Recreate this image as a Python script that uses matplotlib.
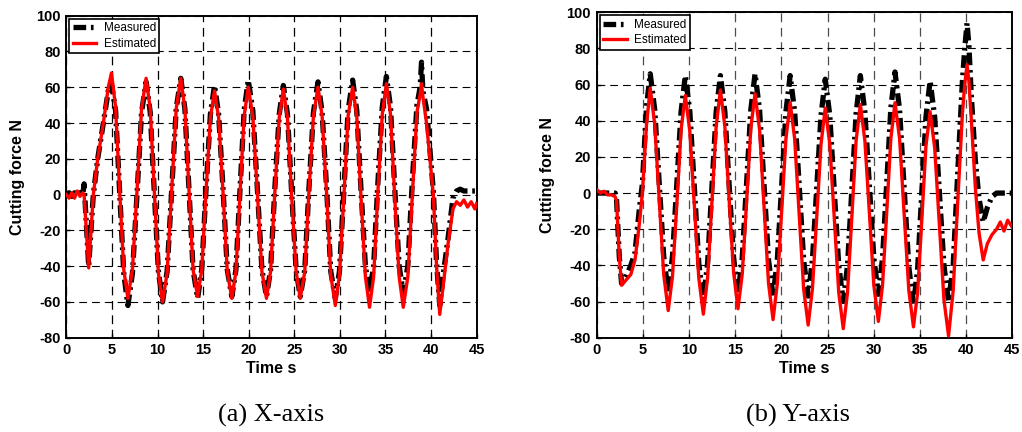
import matplotlib
matplotlib.use('Agg')
import matplotlib.pyplot as plt

# ---- data (time in s, force in N) ----
# (a) X-axis
x_time = [0, 0.3, 0.6, 0.9, 1.2, 1.5, 1.8, 1.95, 2.45,
          2.96, 3.44, 4.06, 4.6, 4.95,
          5.4, 5.85, 6.3, 6.75,
          7.25, 7.75, 8.25, 8.75,
          9.2, 9.65, 10.1, 10.55,
          11.05, 11.55, 12.05, 12.55,
          13.0, 13.45, 13.9, 14.4,
          14.85, 15.3, 15.8, 16.25,
          16.7, 17.2, 17.65, 18.15,
          18.6, 19.05, 19.5, 19.95,
          20.45, 20.95, 21.45, 21.95,
          22.4, 22.85, 23.35, 23.8,
          24.25, 24.7, 25.2, 25.65,
          26.15, 26.6, 27.1, 27.6,
          28.05, 28.55, 29.0, 29.5,
          29.95, 30.45, 30.9, 31.4,
          31.85, 32.3, 32.8, 33.25,
          33.7, 34.15, 34.65, 35.1,
          35.55, 36.0, 36.5, 36.95,
          37.45, 37.95, 38.45, 38.8, 38.95, 39.1,
          39.5, 40.25, 40.6, 40.95,
          41.35, 41.85, 42.4, 42.8, 43.2, 43.6, 44.0, 44.4, 44.8, 45.0]

x_measured = [0, 1, -1, 1, 0, 1, 0, 6, -40,
              0, 20, 40, 58, 62,
              47, 1, -44, -62,
              -44, 0, 46, 63,
              46, 1, -43, -60,
              -43, 2, 48, 65,
              48, 3, -42, -58,
              -42, 1, 45, 61,
              45, 2, -42, -57,
              -42, 3, 47, 64,
              47, 3, -42, -57,
              -42, 2, 45, 61,
              45, 2, -42, -57,
              -42, 3, 46, 63,
              46, 3, -43, -58,
              -43, 3, 47, 64,
              47, 4, -40, -55,
              -40, 5, 49, 66,
              49, 5, -40, -55,
              -40, 8, 50, 60, 74, 58,
              48, 2, -38, -62,
              -44, -25, -2, 2, 3, 2, 2, 2, 2, 2]

x_estimated = [0, -2, 1, -2, 2, -1, 1, 0, -41,
               0, 20, 40, 60, 68,
               49, 2, -42, -58,
               -42, 2, 48, 65,
               48, 2, -44, -60,
               -44, 2, 48, 65,
               48, 3, -42, -57,
               -42, 0, 43, 58,
               43, 0, -43, -58,
               -43, 1, 44, 60,
               44, 1, -43, -58,
               -43, 0, 43, 59,
               43, 0, -43, -58,
               -43, 1, 44, 60,
               44, 0, -45, -62,
               -45, 0, 44, 60,
               44, 0, -46, -63,
               -46, 0, 45, 62,
               45, 0, -46, -63,
               -46, 0, 46, 56, 62, 55,
               40, 0, -40, -67,
               -50, -28, -8, -4, -6, -3, -7, -4, -8, -5]

# (b) Y-axis
y_time = [0, 0.4, 0.8, 1.2, 1.6, 2.0, 2.15, 2.45, 2.7,
          3.2, 3.7, 4.15, 4.6, 4.95, 5.4, 5.8,
          6.29, 6.78, 7.26, 7.75,
          8.21, 8.68, 9.14, 9.6,
          10.09, 10.58, 11.06, 11.55,
          12.01, 12.48, 12.94, 13.4,
          13.88, 14.35, 14.83, 15.3,
          15.76, 16.23, 16.69, 17.15,
          17.64, 18.13, 18.61, 19.1,
          19.56, 20.03, 20.49, 20.95,
          21.44, 21.93, 22.41, 22.9,
          23.36, 23.83, 24.29, 24.75,
          25.24, 25.73, 26.21, 26.7,
          27.16, 27.63, 28.09, 28.55,
          29.04, 29.53, 30.01, 30.5,
          30.95, 31.4, 31.85, 32.3,
          32.8, 33.3, 33.8, 34.3,
          34.75, 35.2, 35.65, 36.1,
          36.6, 37.1, 37.6, 38.1,
          38.6, 39.1, 39.6, 39.85, 40.1, 40.3,
          40.55, 41.0, 41.4, 41.85,
          42.3, 42.8, 43.3, 43.7, 44.1, 44.5, 45.0]

y_measured = [0, 0, 0, 0, 0, 0, -3, -35, -50,
              -46, -40, -33, -10, 5, 48, 66,
              46, 5, -35, -55,
              -35, 5, 45, 65,
              45, 3, -39, -59,
              -39, 3, 45, 65,
              45, 4, -36, -56,
              -36, 5, 46, 66,
              46, 4, -37, -57,
              -37, 4, 45, 65,
              45, 4, -37, -57,
              -37, 3, 43, 63,
              43, 1, -40, -60,
              -40, 2, 44, 65,
              45, 4, -36, -56,
              -36, 5, 47, 67,
              46, 2, -41, -62,
              -42, 0, 42, 62,
              42, 1, -40, -60,
              -40, 12, 62, 80, 94, 82,
              55, 18, -3, -16,
              -8, -2, 0, 0, 0, 0, 0]

y_estimated = [2, 0, 1, -1, -1, -2, -4, -35, -51,
               -48, -45, -37, -18, 0, 38, 58,
               38, -4, -45, -65,
               -46, -6, 35, 54,
               34, -7, -47, -67,
               -47, -5, 37, 57,
               37, -4, -44, -64,
               -45, -5, 36, 55,
               35, -8, -50, -70,
               -50, -10, 30, 50,
               30, -12, -53, -73,
               -53, -13, 27, 47,
               27, -14, -55, -75,
               -55, -13, 29, 49,
               29, -11, -51, -71,
               -51, -11, 30, 50,
               30, -12, -54, -74,
               -55, -15, 26, 45,
               25, -17, -59, -79,
               -54, -4, 44, 60, 71, 62,
               42, 3, -22, -37,
               -28, -23, -20, -16, -21, -15, -19]

xticks = [0, 5, 10, 15, 20, 25, 30, 35, 40, 45]
yticks = [-80, -60, -40, -20, 0, 20, 40, 60, 80, 100]

plt.rcParams['font.family'] = ['Liberation Sans', 'DejaVu Sans']
plt.rcParams['axes.unicode_minus'] = False

fig = plt.figure(figsize=(10.22, 4.32), dpi=100)
ax1 = fig.add_axes([0.0649, 0.2183, 0.4015, 0.7454])
ax2 = fig.add_axes([0.5838, 0.2183, 0.4067, 0.7532])

panels = [(ax1, x_time, x_measured, x_estimated, '0.0'),
          (ax2, y_time, y_measured, y_estimated, '0.3')]

for ax, t, meas, est, vgrid in panels:
    ax.plot(t, meas, color='black', lw=3.8, dashes=[2.4, 0.9, 0.5, 0.9],
            label='Measured', zorder=3)
    ax.plot(t, est, color='red', lw=2.4, label='Estimated', zorder=4)

    ax.set_xlim(0, 45)
    ax.set_ylim(-80, 100)
    ax.set_xticks(xticks)
    ax.set_yticks(yticks)
    ax.tick_params(direction='in', length=3, width=1, labelsize=10.5, pad=4)
    for lab in ax.get_xticklabels() + ax.get_yticklabels():
        lab.set_fontweight('bold')
    for s in ax.spines.values():
        s.set_linewidth(1.4)

    ax.yaxis.grid(True, color='black', lw=0.8, linestyle=(0, (7, 4.5)))
    ax.xaxis.grid(True, color=vgrid, lw=0.9, linestyle=(0, (7, 4.5)))

    ax.set_xlabel('Time s', fontsize=11.5, fontweight='bold', labelpad=3)
    ax.set_ylabel('Cutting force N', fontsize=11.5, fontweight='bold', labelpad=8)

    leg = ax.legend(loc='upper left', fontsize=8.5, fancybox=False,
                    edgecolor='black', framealpha=1, borderpad=0.3,
                    borderaxespad=0.25, handlelength=2.0, handletextpad=0.6,
                    labelspacing=0.3)
    leg.get_frame().set_linewidth(1.2)

fig.text(0.265, 0.039, '(a) X-axis', ha='center', va='center',
         fontsize=19, family='Liberation Serif')
fig.text(0.781, 0.039, '(b) Y-axis', ha='center', va='center',
         fontsize=19, family='Liberation Serif')

fig.savefig('out.png', dpi=100)
